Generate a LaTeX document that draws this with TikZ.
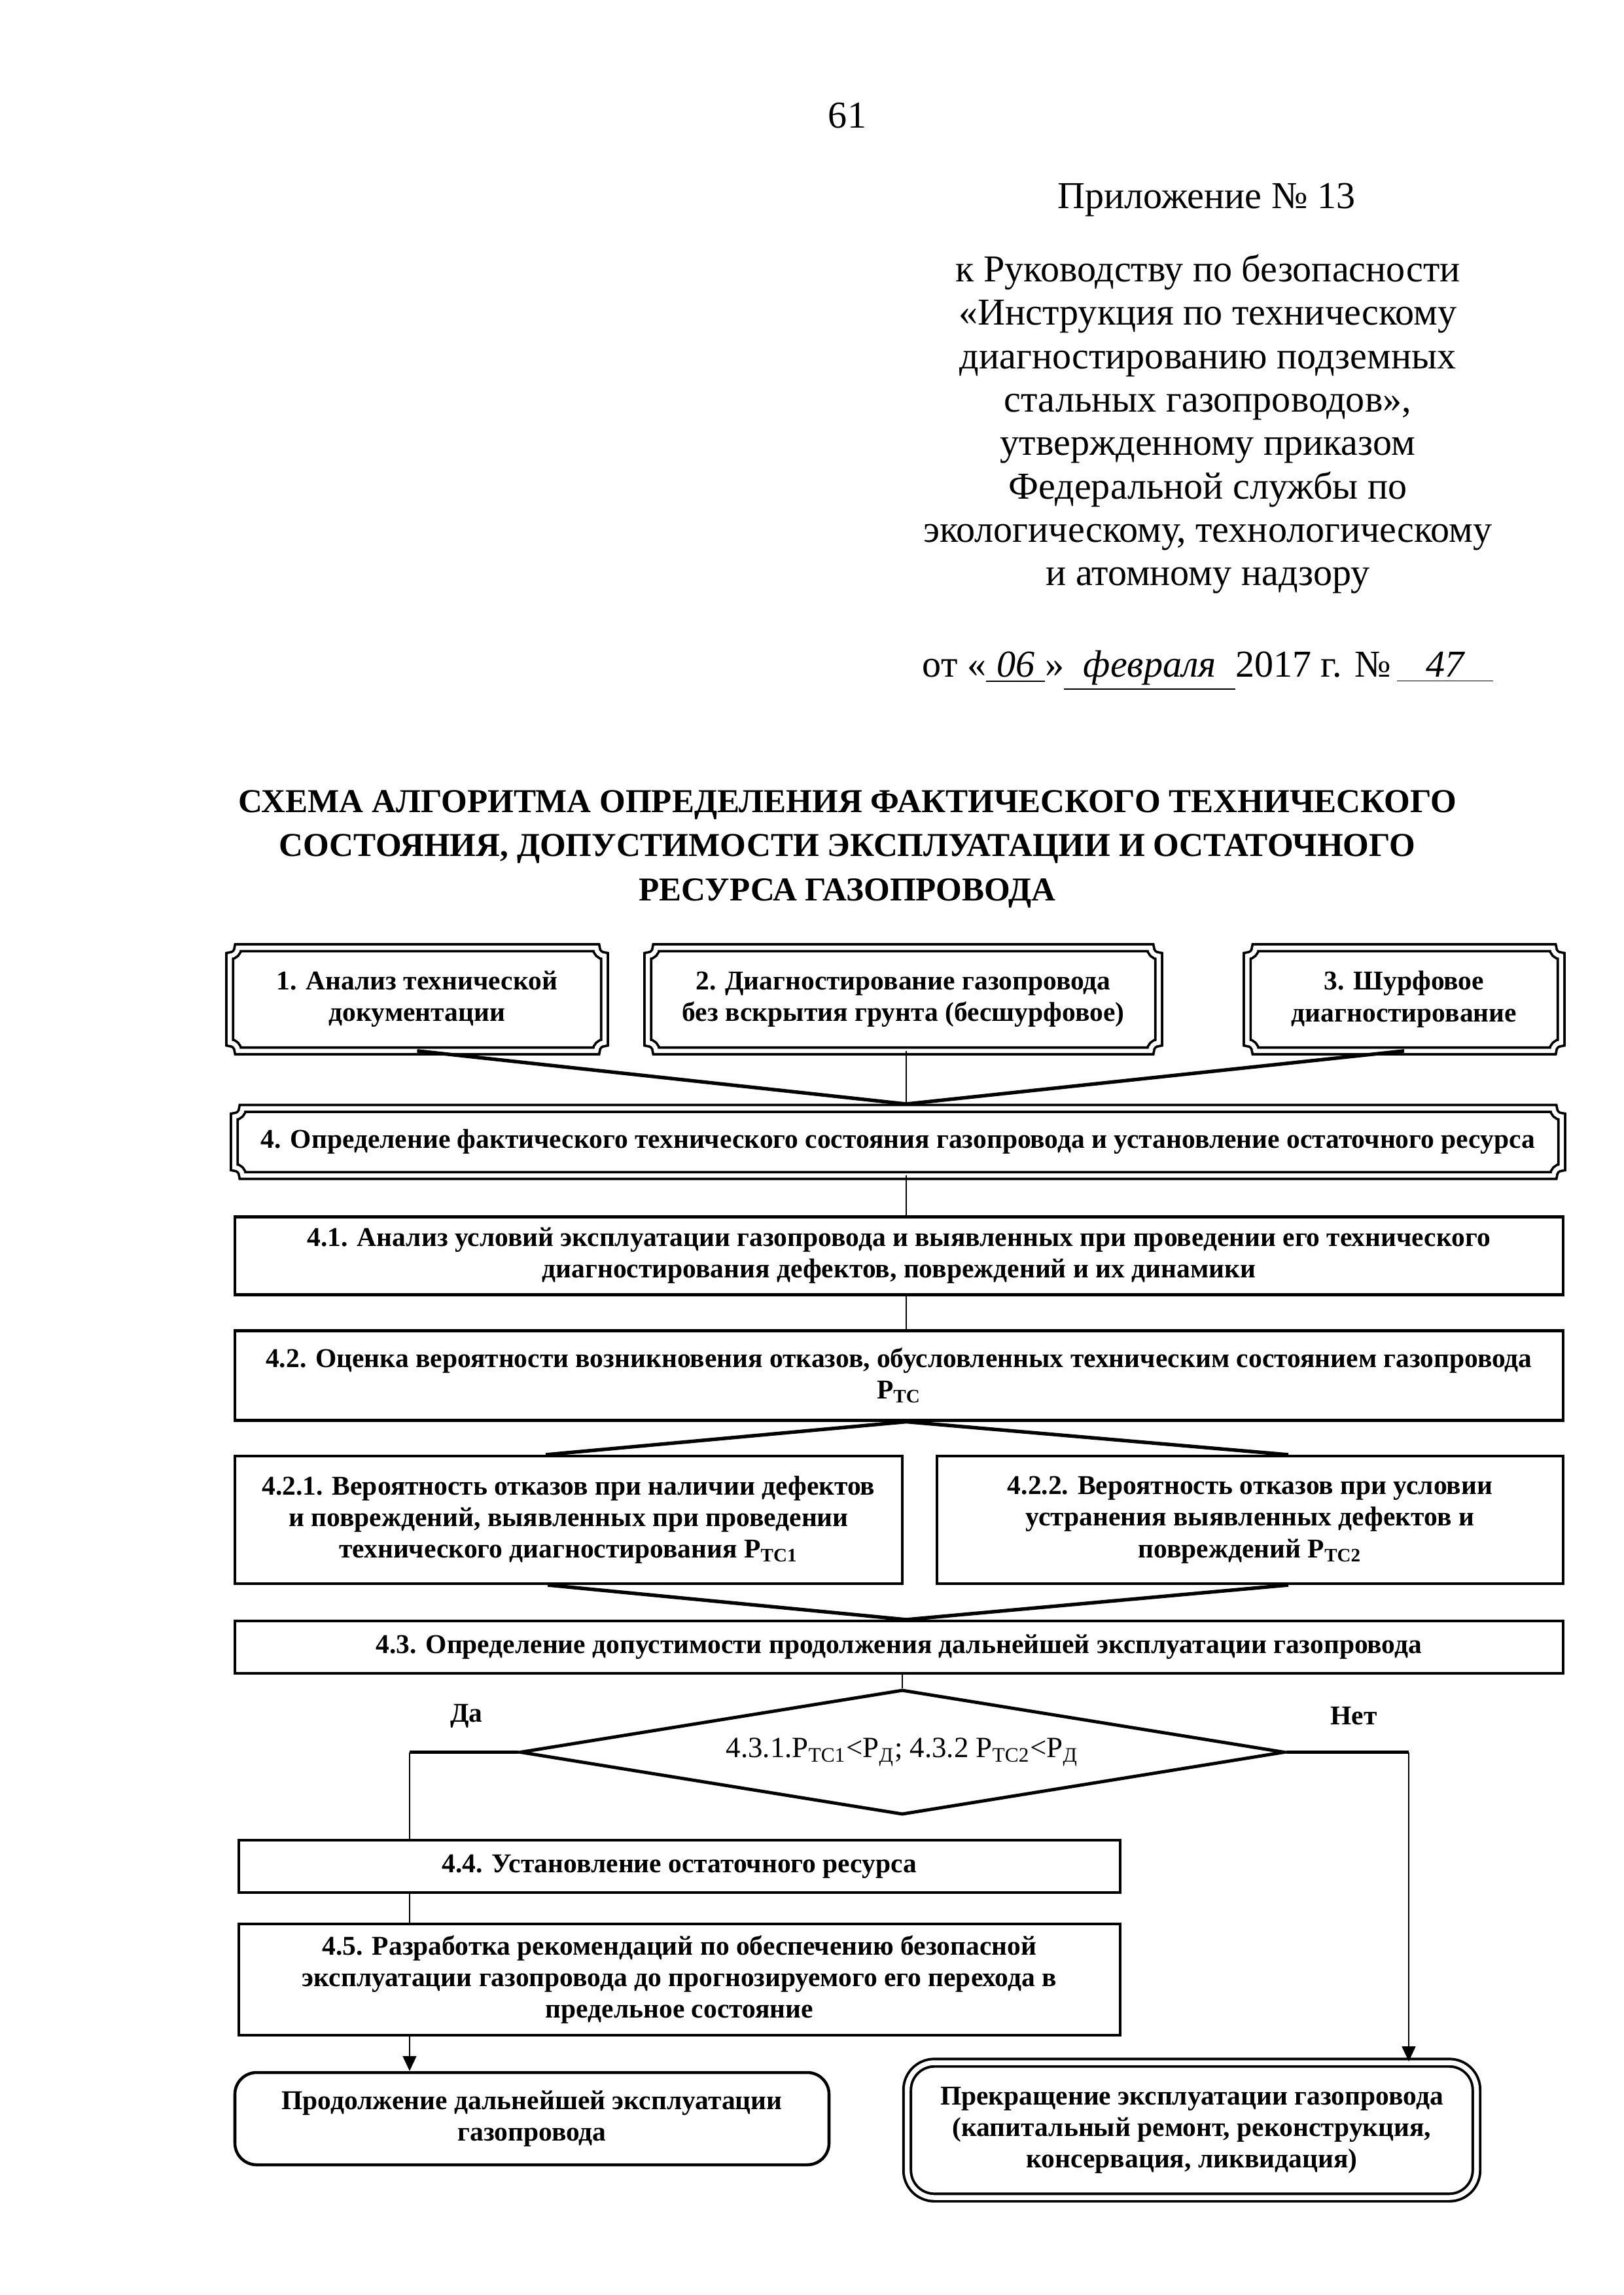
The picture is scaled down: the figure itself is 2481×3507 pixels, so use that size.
\documentclass[tikz,border=0pt]{standalone}
\usepackage{fontspec}
\setmainfont{Liberation Serif}
\usetikzlibrary{shapes.geometric,arrows.meta,calc}

\newcommand\bx{\fontsize{10}{11.6}\selectfont\bfseries}
\newcommand\hdrf{\fontsize{14}{16}\selectfont}
\newcommand\ttlf{\fontsize{12.3}{16}\selectfont\bfseries}
\newcommand\Ptc[1]{Р\textsubscript{ТС#1}}

% plaque outline (concave corners) around a node
\newcommand\plaque[2]{%
 \path[plq] let \p1=(#1.north west), \p2=(#1.south east), \n2={#2} in
 (\x1+\n2,\y1) -- (\x2-\n2,\y1)
 arc[start angle=180,end angle=270,radius=\n2*1pt] -- (\x2,\y2+\n2)
 arc[start angle=90,end angle=180,radius=\n2*1pt] -- (\x1+\n2,\y2)
 arc[start angle=0,end angle=90,radius=\n2*1pt] -- (\x1,\y1-\n2)
 arc[start angle=270,end angle=360,radius=\n2*1pt] -- cycle;}

\tikzset{
 sz/.style 2 args={minimum width=#1*0.240887pt, minimum height=#2*0.240887pt},
 txt/.style={align=center, font=\bx, inner sep=0pt},
 rbox/.style={txt, draw, line width=1pt},
 pbox/.style={txt},
 plq/.style={draw, line width=0.9pt, double distance=1.6pt},
 hdr/.style={font=\hdrf, inner sep=0pt, anchor=mid},
 ttl/.style={font=\ttlf, inner sep=0pt, anchor=mid},
 conn/.style={line width=1.3pt},
 vconn/.style={line width=0.55pt},
 arr/.style={-{Triangle[length=5.5pt,width=5pt]}},
}

\begin{document}
\begin{tikzpicture}[x=0.240887pt,y=-0.240887pt]
\fill[white] (0,0) rectangle (2481,3507);
\useasboundingbox (0,0) rectangle (2481,3507);

% header
\node[hdr] (pg) at (1295,186) {61};
\node[hdr] (h0) at (1844,309) {Приложение № 13};
\node[hdr] (h1) at (1846,421) {к Руководству по безопасности};
\node[hdr] (h2) at (1846,487) {«Инструкция по техническому};
\node[hdr] (h3) at (1846,554) {диагностированию подземных};
\node[hdr] (h4) at (1846,620) {стальных газопроводов»,};
\node[hdr] (h5) at (1846,686) {утвержденному приказом};
\node[hdr] (h6) at (1846,753) {Федеральной службы по};
\node[hdr] (h7) at (1846,819) {экологическому, технологическому};
\node[hdr] (h8) at (1846,885) {и атомному надзору};
\node[hdr, anchor=mid west] (dt) at (1409,1025) {от «\underline{\makebox[21.7pt][c]{\itshape 06}}»\underline{\makebox[63.1pt][c]{\itshape февраля}}2017 г. №\,\underline{\makebox[35.4pt][c]{\itshape 47}}};

% title
\node[ttl] (t1) at (1295,1232) {СХЕМА АЛГОРИТМА ОПРЕДЕЛЕНИЯ ФАКТИЧЕСКОГО ТЕХНИЧЕСКОГО};
\node[ttl] (t2) at (1295,1299) {СОСТОЯНИЯ, ДОПУСТИМОСТИ ЭКСПЛУАТАЦИИ И ОСТАТОЧНОГО};
\node[ttl] (t3) at (1295,1367) {РЕСУРСА ГАЗОПРОВОДА};

% top plaque boxes
\node[pbox, sz={571}{156}] (b1) at (637.5,1527) {1. Анализ технической\\документации};
\plaque{b1}{3}
\node[pbox, sz={779}{156}] (b2) at (1380.5,1527) {2. Диагностирование газопровода\\без вскрытия грунта (бесшурфовое)};
\plaque{b2}{3}
\node[pbox, sz={478}{156}] (b3) at (2146,1527) {3. Шурфовое\\диагностирование};
\plaque{b3}{3}
\node[pbox, sz={2027}{101}] (b4) at (1372.5,1745) {4. Определение фактического технического состояния газопровода и установление остаточного ресурса};
\plaque{b4}{3}

% rectangular boxes
\node[rbox, sz={2030}{119}] (b41) at (1374,1919) {4.1. Анализ условий эксплуатации газопровода и выявленных при проведении его технического\\диагностирования дефектов, повреждений и их динамики};
\node[rbox, sz={2030}{137}] (b42) at (1374,2102) {4.2. Оценка вероятности возникновения отказов, обусловленных техническим состоянием газопровода\\\Ptc{}};
\node[rbox, sz={1020}{195}] (b421) at (869,2322.5) {4.2.1. Вероятность отказов при наличии дефектов\\и повреждений, выявленных при проведении\\технического диагностирования \Ptc{1}};
\node[rbox, sz={957}{195}] (b422) at (1910.5,2322.5) {4.2.2. Вероятность отказов при условии\\устранения выявленных дефектов и\\повреждений \Ptc{2}};
\node[rbox, sz={2030}{80}] (b43) at (1374,2517) {4.3. Определение допустимости продолжения дальнейшей эксплуатации газопровода};

% decision
\node[diamond, draw, line width=1.2pt, aspect=6.12, inner sep=0pt, sz={1169}{191}, font=\fontsize{10.8}{12}\selectfont] (dia) at (1379,2677.5) {4.3.1.\Ptc{1}<Р\textsubscript{Д}; 4.3.2 \Ptc{2}<Р\textsubscript{Д}};
\node[txt] (yes) at (713,2622) {Да};
\node[txt] (no) at (2069,2622) {Нет};

\node[rbox, sz={1347}{80}] (b44) at (1038.5,2852) {4.4. Установление остаточного ресурса};
\node[rbox, sz={1347}{170}] (b45) at (1038.5,3025) {4.5. Разработка рекомендаций по обеспечению безопасной\\эксплуатации газопровода до прогнозируемого его перехода в\\предельное состояние};

% terminal boxes
\node[txt, draw, line width=1.1pt, rounded corners=8pt, sz={908}{141}] (endL) at (813,3237.5) {Продолжение дальнейшей эксплуатации\\газопровода};
\node[txt, draw, line width=0.95pt, double distance=1.8pt, rounded corners=10pt, sz={870}{206}] (endR) at (1821.5,3255) {Прекращение эксплуатации газопровода\\(капитальный ремонт, реконструкция,\\консервация, ликвидация)};

% connectors
\coordinate (J) at (1385,1687);
\draw[conn] (b1.south) -- (J);
\draw[vconn] (b2.south -| J) -- (J);
\draw[conn] (b3.south) -- (J);
\draw[vconn] (b4.south -| J) -- (b41.north -| J);
\draw[vconn] (b41.south -| J) -- (b42.north -| J);
\draw[conn] (b42.south -| J) -- ([xshift=-8.4pt]b421.north);
\draw[conn] (b42.south -| J) -- ([xshift=14.1pt]b422.north);
\draw[conn] ([xshift=-7.7pt]b421.south) -- (b43.north -| J);
\draw[conn] ([xshift=14.1pt]b422.south) -- (b43.north -| J);
\draw[vconn] (b43.south -| dia.north) -- (dia.north);
\coordinate (yesc) at (626,2677.5);
\coordinate (noc) at (2153,2677.5);
\draw[conn] (dia.west) -- (yesc);
\draw[vconn] (yesc) -- (yesc |- b44.north);
\draw[vconn] (b44.south -| yesc) -- (b45.north -| yesc);
\draw[vconn, arr] (b45.south -| yesc) -- (endL.north -| yesc);
\draw[conn] (dia.east) -- (noc);
\draw[vconn, arr] (noc) -- (noc |- endR.north);
\end{tikzpicture}
\end{document}
